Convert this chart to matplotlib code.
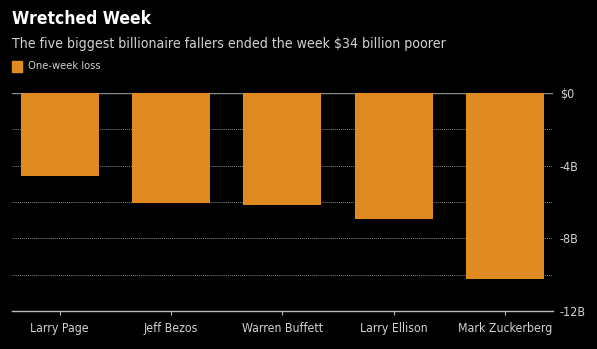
import matplotlib.pyplot as plt
from matplotlib.patches import Rectangle

names = ["Larry Page", "Jeff Bezos", "Warren Buffett", "Larry Ellison", "Mark Zuckerberg"]
loss = [-4.6, -6.05, -6.15, -6.95, -10.25]
ytick_vals = [0, -4, -8, -12]
ytick_labels = ["$0", "-4B", "-8B", "-12B"]

orange = "#e08a22"
grey = "#d2d2d2"

plt.rcParams["font.family"] = ["DejaVu Sans"]
plt.rcParams["font.stretch"] = "condensed"

fig = plt.figure(figsize=(5.97, 3.49), dpi=100, facecolor="black")
ax = fig.add_axes([0.020, 0.109, 0.906, 0.625], facecolor="black")

x = range(len(names))
ax.bar(x, loss, width=0.7, color=orange, zorder=3)

ax.set_xlim(-0.43, len(names) - 1 + 0.43)
ax.set_ylim(-12, 0)

# dotted gridlines every 2B
for v in [-2, -4, -6, -8, -10]:
    ax.axhline(v, color="#a0a0a0", lw=0.7, ls=(0, (0.8, 1.2)), zorder=1)
ax.axhline(0, color="#8a8a8a", lw=1.0, zorder=2)

for s in ["top", "left", "right"]:
    ax.spines[s].set_visible(False)
ax.spines["bottom"].set_color("#bbbbbb")
ax.spines["bottom"].set_linewidth(1.0)

ax.set_xticks(list(x))
ax.set_xticklabels(names, color=grey, fontsize=8.8)
ax.tick_params(axis="x", colors="#bbbbbb", length=3, width=0.8, pad=5, labelcolor=grey)

ax.yaxis.tick_right()
ax.set_yticks(ytick_vals)
ax.set_yticklabels(ytick_labels, color=grey, fontsize=9)
ax.tick_params(axis="y", length=0, pad=5)

fig.text(0.020, 0.945, "Wretched Week", color="white", fontsize=12.5, fontweight="bold", va="center")
fig.text(0.020, 0.873, "The five biggest billionaire fallers ended the week $34 billion poorer",
         color=grey, fontsize=10.1, va="center")
fig.patches.append(Rectangle((0.020, 0.795), 0.017, 0.03, transform=fig.transFigure,
                             color=orange, figure=fig))
fig.text(0.047, 0.810, "One-week loss", color=grey, fontsize=8, va="center")

fig.savefig("out.png", dpi=100, facecolor="black")
